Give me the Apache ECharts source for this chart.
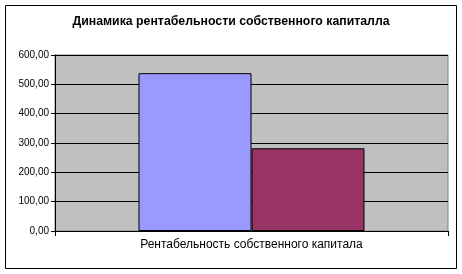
<!DOCTYPE html>
<html><head><meta charset="utf-8">
<script src="https://cdn.jsdelivr.net/npm/echarts@6/dist/echarts.min.js"></script>
<style>html,body{margin:0;padding:0;background:#fff}#c{width:462px;height:274px}</style>
</head><body><div id="c"></div>
<script>
var titleText = 'Динамика рентабельности собственного капиталла';
var categories = ['Рентабельность собственного капитала'];
var series1 = [538];
var series2 = [282];
var yTicks = {min: 0, max: 600, interval: 100};

var chart = echarts.init(document.getElementById('c'), null, {renderer: 'canvas'});
chart.setOption({
  animation: false,
  backgroundColor: '#ffffff',
  title: {
    text: titleText, left: 'center', top: 11,
    textStyle: {fontFamily: 'Liberation Sans', fontSize: 12.3, fontWeight: 'bold', color: '#000'}
  },
  graphic: [{
    type: 'rect', shape: {x: 5.5, y: 5.5, width: 451, height: 263},
    style: {fill: 'none', stroke: '#000', lineWidth: 1}, silent: true, z: -1
  }],
  grid: {left: 55, right: 14, top: 55, bottom: 43, show: true, backgroundColor: '#C0C0C0', borderColor: '#808080', borderWidth: 1},
  xAxis: {
    type: 'category', data: categories,
    axisLine: {lineStyle: {color: '#000', width: 1}},
    axisTick: {show: true, length: 5, lineStyle: {color: '#000'}},
    axisLabel: {fontFamily: 'Liberation Sans', fontSize: 12, color: '#000', margin: 8}
  },
  yAxis: {
    type: 'value', min: yTicks.min, max: yTicks.max, interval: yTicks.interval,
    axisLine: {show: true, lineStyle: {color: '#000', width: 1}},
    axisTick: {show: true, length: 4, lineStyle: {color: '#000'}},
    splitLine: {lineStyle: {color: '#000', width: 1}},
    axisLabel: {fontFamily: 'Liberation Sans', fontSize: 10, color: '#000', margin: 6,
      formatter: function (v) { return v.toFixed(2).replace('.', ','); }}
  },
  series: [
    {type: 'bar', data: series1, barGap: '0%', barCategoryGap: '42.5%',
     itemStyle: {color: '#9999FF', borderColor: '#000', borderWidth: 1}},
    {type: 'bar', data: series2, barGap: '0%', barCategoryGap: '42.5%',
     itemStyle: {color: '#993366', borderColor: '#000', borderWidth: 1}}
  ]
});
</script></body></html>
